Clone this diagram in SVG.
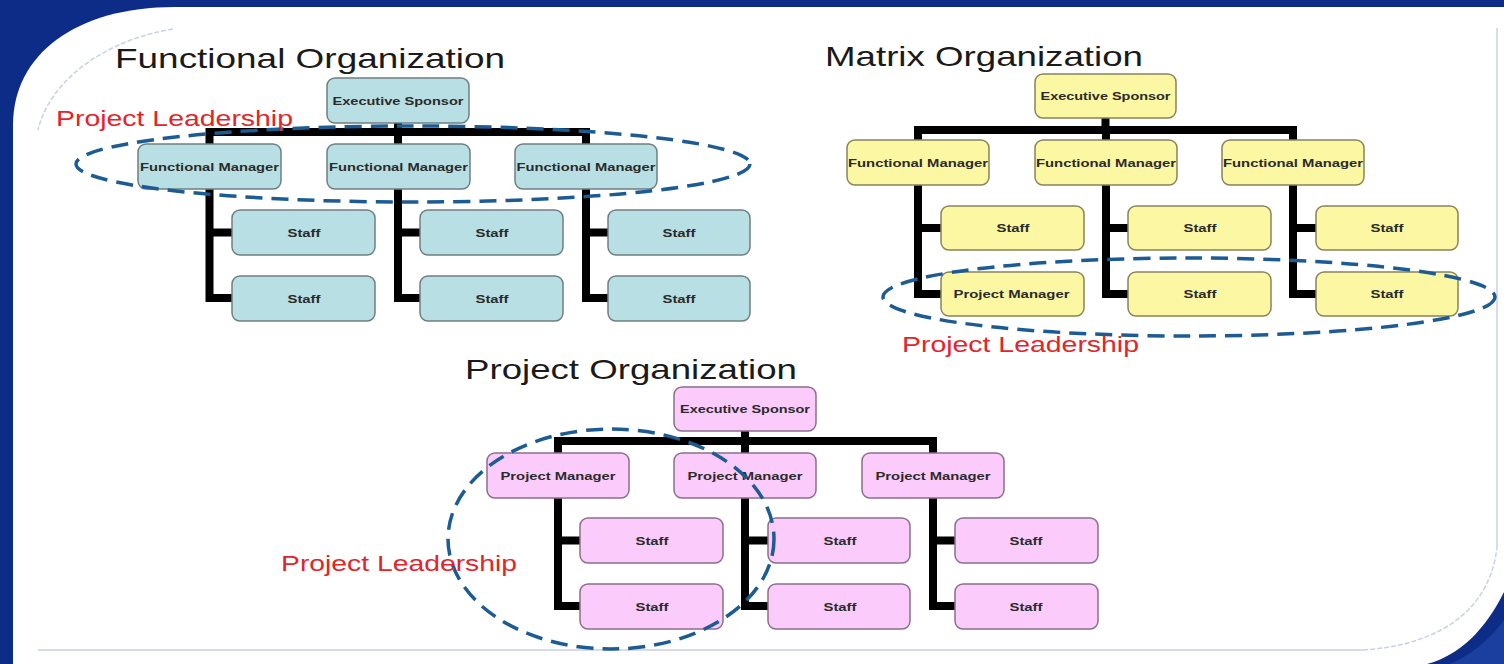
<svg xmlns="http://www.w3.org/2000/svg" width="1504" height="664" viewBox="0 0 1504 664">
<defs>
<style>
.bg{fill:#0c2c87}
.frame{fill:#ffffff}
.faint{fill:none;stroke:#c9d1e6;stroke-width:1.5}
.faintd{fill:none;stroke:#c9d1e6;stroke-width:1.5;stroke-dasharray:5 2}
.title{font-family:"Liberation Sans",Arial,sans-serif;font-size:28px;fill:#1a1a1a}
.lead{font-family:"Liberation Sans",Arial,sans-serif;font-size:22px;fill:#e3242b}
.box rect{stroke-width:1.5}
.teal rect{fill:#b8dfe3;stroke:#6f7f80}
.yel rect{fill:#fbf7a2;stroke:#88845c}
.pink rect{fill:#fbcbfb;stroke:#8a6f8a}
.box text{font-family:"Liberation Sans",Arial,sans-serif;font-size:11.5px;font-weight:bold;fill:#2b2b2b;text-anchor:middle;dominant-baseline:central}
.conn path{fill:none;stroke:#000;stroke-width:8;stroke-linejoin:miter;stroke-linecap:butt}
.ell{fill:none;stroke:#1d5b93;stroke-width:3.5;stroke-dasharray:17 9}
</style>
</defs>
<rect class="bg" x="0" y="0" width="1504" height="664"/>
<path class="frame" d="M13,664 V125 C13,55 75,7 175,7 H1504 V592 C1485,630 1460,655 1427,664 Z"/>
<path d="M1504,620 C1490,640 1470,655 1450,664 H1504 Z" fill="#1a3f9e"/>
<path class="faintd" d="M173,29 C105,40 50,80 38,130"/>
<path class="faint" d="M38,650 H1363"/>
<path class="faintd" d="M1363,650 C1440,645 1490,610 1497,547"/>
<path class="faint" d="M1497,547 V28"/>

<text class="title" x="115" y="68" textLength="390" lengthAdjust="spacingAndGlyphs">Functional Organization</text>
<text class="title" x="825" y="66" textLength="318" lengthAdjust="spacingAndGlyphs">Matrix Organization</text>
<text class="title" x="465" y="379" textLength="332" lengthAdjust="spacingAndGlyphs">Project Organization</text>

<g id="connectors" class="conn">
<path d="M398,123 V132"/>
<path d="M209.5,144 V132 H586 V144"/>
<path d="M398,132 V144"/>
<path d="M209.5,189 V298 H232 M209.5,232.5 H232"/>
<path d="M398,189 V298 H420 M398,232.5 H420"/>
<path d="M586,189 V298 H608 M586,232.5 H608"/>

<path d="M1105.5,118 V130"/>
<path d="M918,140 V130 H1293 V140"/>
<path d="M1106,130 V140"/>
<path d="M918,185 V294 H941 M918,228 H941"/>
<path d="M1106,185 V294 H1128 M1106,228 H1128"/>
<path d="M1293,185 V294 H1316 M1293,228 H1316"/>

<path d="M745,431 V441"/>
<path d="M558,453 V441 H933 V453"/>
<path d="M745,441 V453"/>
<path d="M558,498 V606 H580 M558,540.5 H580"/>
<path d="M745,498 V606 H768 M745,540.5 H768"/>
<path d="M933,498 V606 H955 M933,540.5 H955"/>
</g>

<g id="f-exec" class="box teal"><rect x="327" y="78" width="142" height="45" rx="8"/><text x="398" y="100.5" textLength="131" lengthAdjust="spacingAndGlyphs">Executive Sponsor</text></g>
<g id="f-fm1" class="box teal"><rect x="138" y="144" width="143" height="45" rx="8"/><text x="209.5" y="166.5" textLength="139" lengthAdjust="spacingAndGlyphs">Functional Manager</text></g>
<g id="f-fm2" class="box teal"><rect x="327" y="144" width="143" height="45" rx="8"/><text x="398.5" y="166.5" textLength="139" lengthAdjust="spacingAndGlyphs">Functional Manager</text></g>
<g id="f-fm3" class="box teal"><rect x="515" y="144" width="142" height="45" rx="8"/><text x="586" y="166.5" textLength="139" lengthAdjust="spacingAndGlyphs">Functional Manager</text></g>
<g id="f-s11" class="box teal"><rect x="232" y="210" width="143" height="45" rx="8"/><text x="304" y="232.5" textLength="33" lengthAdjust="spacingAndGlyphs">Staff</text></g>
<g id="f-s12" class="box teal"><rect x="232" y="276" width="143" height="45" rx="8"/><text x="304" y="298.5" textLength="33" lengthAdjust="spacingAndGlyphs">Staff</text></g>
<g id="f-s21" class="box teal"><rect x="420" y="210" width="143" height="45" rx="8"/><text x="492" y="232.5" textLength="33" lengthAdjust="spacingAndGlyphs">Staff</text></g>
<g id="f-s22" class="box teal"><rect x="420" y="276" width="143" height="45" rx="8"/><text x="492" y="298.5" textLength="33" lengthAdjust="spacingAndGlyphs">Staff</text></g>
<g id="f-s31" class="box teal"><rect x="608" y="210" width="142" height="45" rx="8"/><text x="679" y="232.5" textLength="33" lengthAdjust="spacingAndGlyphs">Staff</text></g>
<g id="f-s32" class="box teal"><rect x="608" y="276" width="142" height="45" rx="8"/><text x="679" y="298.5" textLength="33" lengthAdjust="spacingAndGlyphs">Staff</text></g>

<g id="m-exec" class="box yel"><rect x="1035" y="74" width="141" height="44" rx="8"/><text x="1105.5" y="96" textLength="130" lengthAdjust="spacingAndGlyphs">Executive Sponsor</text></g>
<g id="m-fm1" class="box yel"><rect x="847" y="140" width="142" height="45" rx="8"/><text x="918" y="162.5" textLength="140" lengthAdjust="spacingAndGlyphs">Functional Manager</text></g>
<g id="m-fm2" class="box yel"><rect x="1035" y="140" width="142" height="45" rx="8"/><text x="1106" y="162.5" textLength="140" lengthAdjust="spacingAndGlyphs">Functional Manager</text></g>
<g id="m-fm3" class="box yel"><rect x="1222" y="140" width="142" height="45" rx="8"/><text x="1293" y="162.5" textLength="140" lengthAdjust="spacingAndGlyphs">Functional Manager</text></g>
<g id="m-s11" class="box yel"><rect x="941" y="206" width="143" height="44" rx="8"/><text x="1013" y="228" textLength="33" lengthAdjust="spacingAndGlyphs">Staff</text></g>
<g id="m-pm" class="box yel"><rect x="941" y="272" width="143" height="44" rx="8"/><text x="1011.5" y="294" textLength="116" lengthAdjust="spacingAndGlyphs">Project Manager</text></g>
<g id="m-s21" class="box yel"><rect x="1128" y="206" width="143" height="44" rx="8"/><text x="1200" y="228" textLength="33" lengthAdjust="spacingAndGlyphs">Staff</text></g>
<g id="m-s22" class="box yel"><rect x="1128" y="272" width="143" height="44" rx="8"/><text x="1200" y="294" textLength="33" lengthAdjust="spacingAndGlyphs">Staff</text></g>
<g id="m-s31" class="box yel"><rect x="1316" y="206" width="142" height="44" rx="8"/><text x="1387" y="228" textLength="33" lengthAdjust="spacingAndGlyphs">Staff</text></g>
<g id="m-s32" class="box yel"><rect x="1316" y="272" width="142" height="44" rx="8"/><text x="1387" y="294" textLength="33" lengthAdjust="spacingAndGlyphs">Staff</text></g>

<g id="p-exec" class="box pink"><rect x="674" y="387" width="142" height="44" rx="8"/><text x="745" y="409" textLength="130" lengthAdjust="spacingAndGlyphs">Executive Sponsor</text></g>
<g id="p-pm1" class="box pink"><rect x="487" y="453" width="142" height="45" rx="8"/><text x="558" y="475.5" textLength="115" lengthAdjust="spacingAndGlyphs">Project Manager</text></g>
<g id="p-pm2" class="box pink"><rect x="674" y="453" width="142" height="45" rx="8"/><text x="745" y="475.5" textLength="115" lengthAdjust="spacingAndGlyphs">Project Manager</text></g>
<g id="p-pm3" class="box pink"><rect x="862" y="453" width="142" height="45" rx="8"/><text x="933" y="475.5" textLength="115" lengthAdjust="spacingAndGlyphs">Project Manager</text></g>
<g id="p-s11" class="box pink"><rect x="580" y="518" width="143" height="45" rx="8"/><text x="652" y="540.5" textLength="33" lengthAdjust="spacingAndGlyphs">Staff</text></g>
<g id="p-s12" class="box pink"><rect x="580" y="584" width="143" height="45" rx="8"/><text x="652" y="606.5" textLength="33" lengthAdjust="spacingAndGlyphs">Staff</text></g>
<g id="p-s21" class="box pink"><rect x="768" y="518" width="142" height="45" rx="8"/><text x="840" y="540.5" textLength="33" lengthAdjust="spacingAndGlyphs">Staff</text></g>
<g id="p-s22" class="box pink"><rect x="768" y="584" width="142" height="45" rx="8"/><text x="840" y="606.5" textLength="33" lengthAdjust="spacingAndGlyphs">Staff</text></g>
<g id="p-s31" class="box pink"><rect x="955" y="518" width="143" height="45" rx="8"/><text x="1026" y="540.5" textLength="33" lengthAdjust="spacingAndGlyphs">Staff</text></g>
<g id="p-s32" class="box pink"><rect x="955" y="584" width="143" height="45" rx="8"/><text x="1026" y="606.5" textLength="33" lengthAdjust="spacingAndGlyphs">Staff</text></g>

<g id="leadership-functional">
<ellipse class="ell" cx="413" cy="164" rx="337" ry="38"/>
<text class="lead" x="56" y="126" textLength="237" lengthAdjust="spacingAndGlyphs">Project Leadership</text>
</g>
<g id="leadership-matrix">
<ellipse class="ell" cx="1189" cy="297" rx="306" ry="39"/>
<text class="lead" x="902" y="352" textLength="237" lengthAdjust="spacingAndGlyphs">Project Leadership</text>
</g>
<g id="leadership-project">
<ellipse class="ell" cx="611" cy="539" rx="163" ry="110"/>
<text class="lead" x="281" y="571" textLength="236" lengthAdjust="spacingAndGlyphs">Project Leadership</text>
</g>
</svg>
